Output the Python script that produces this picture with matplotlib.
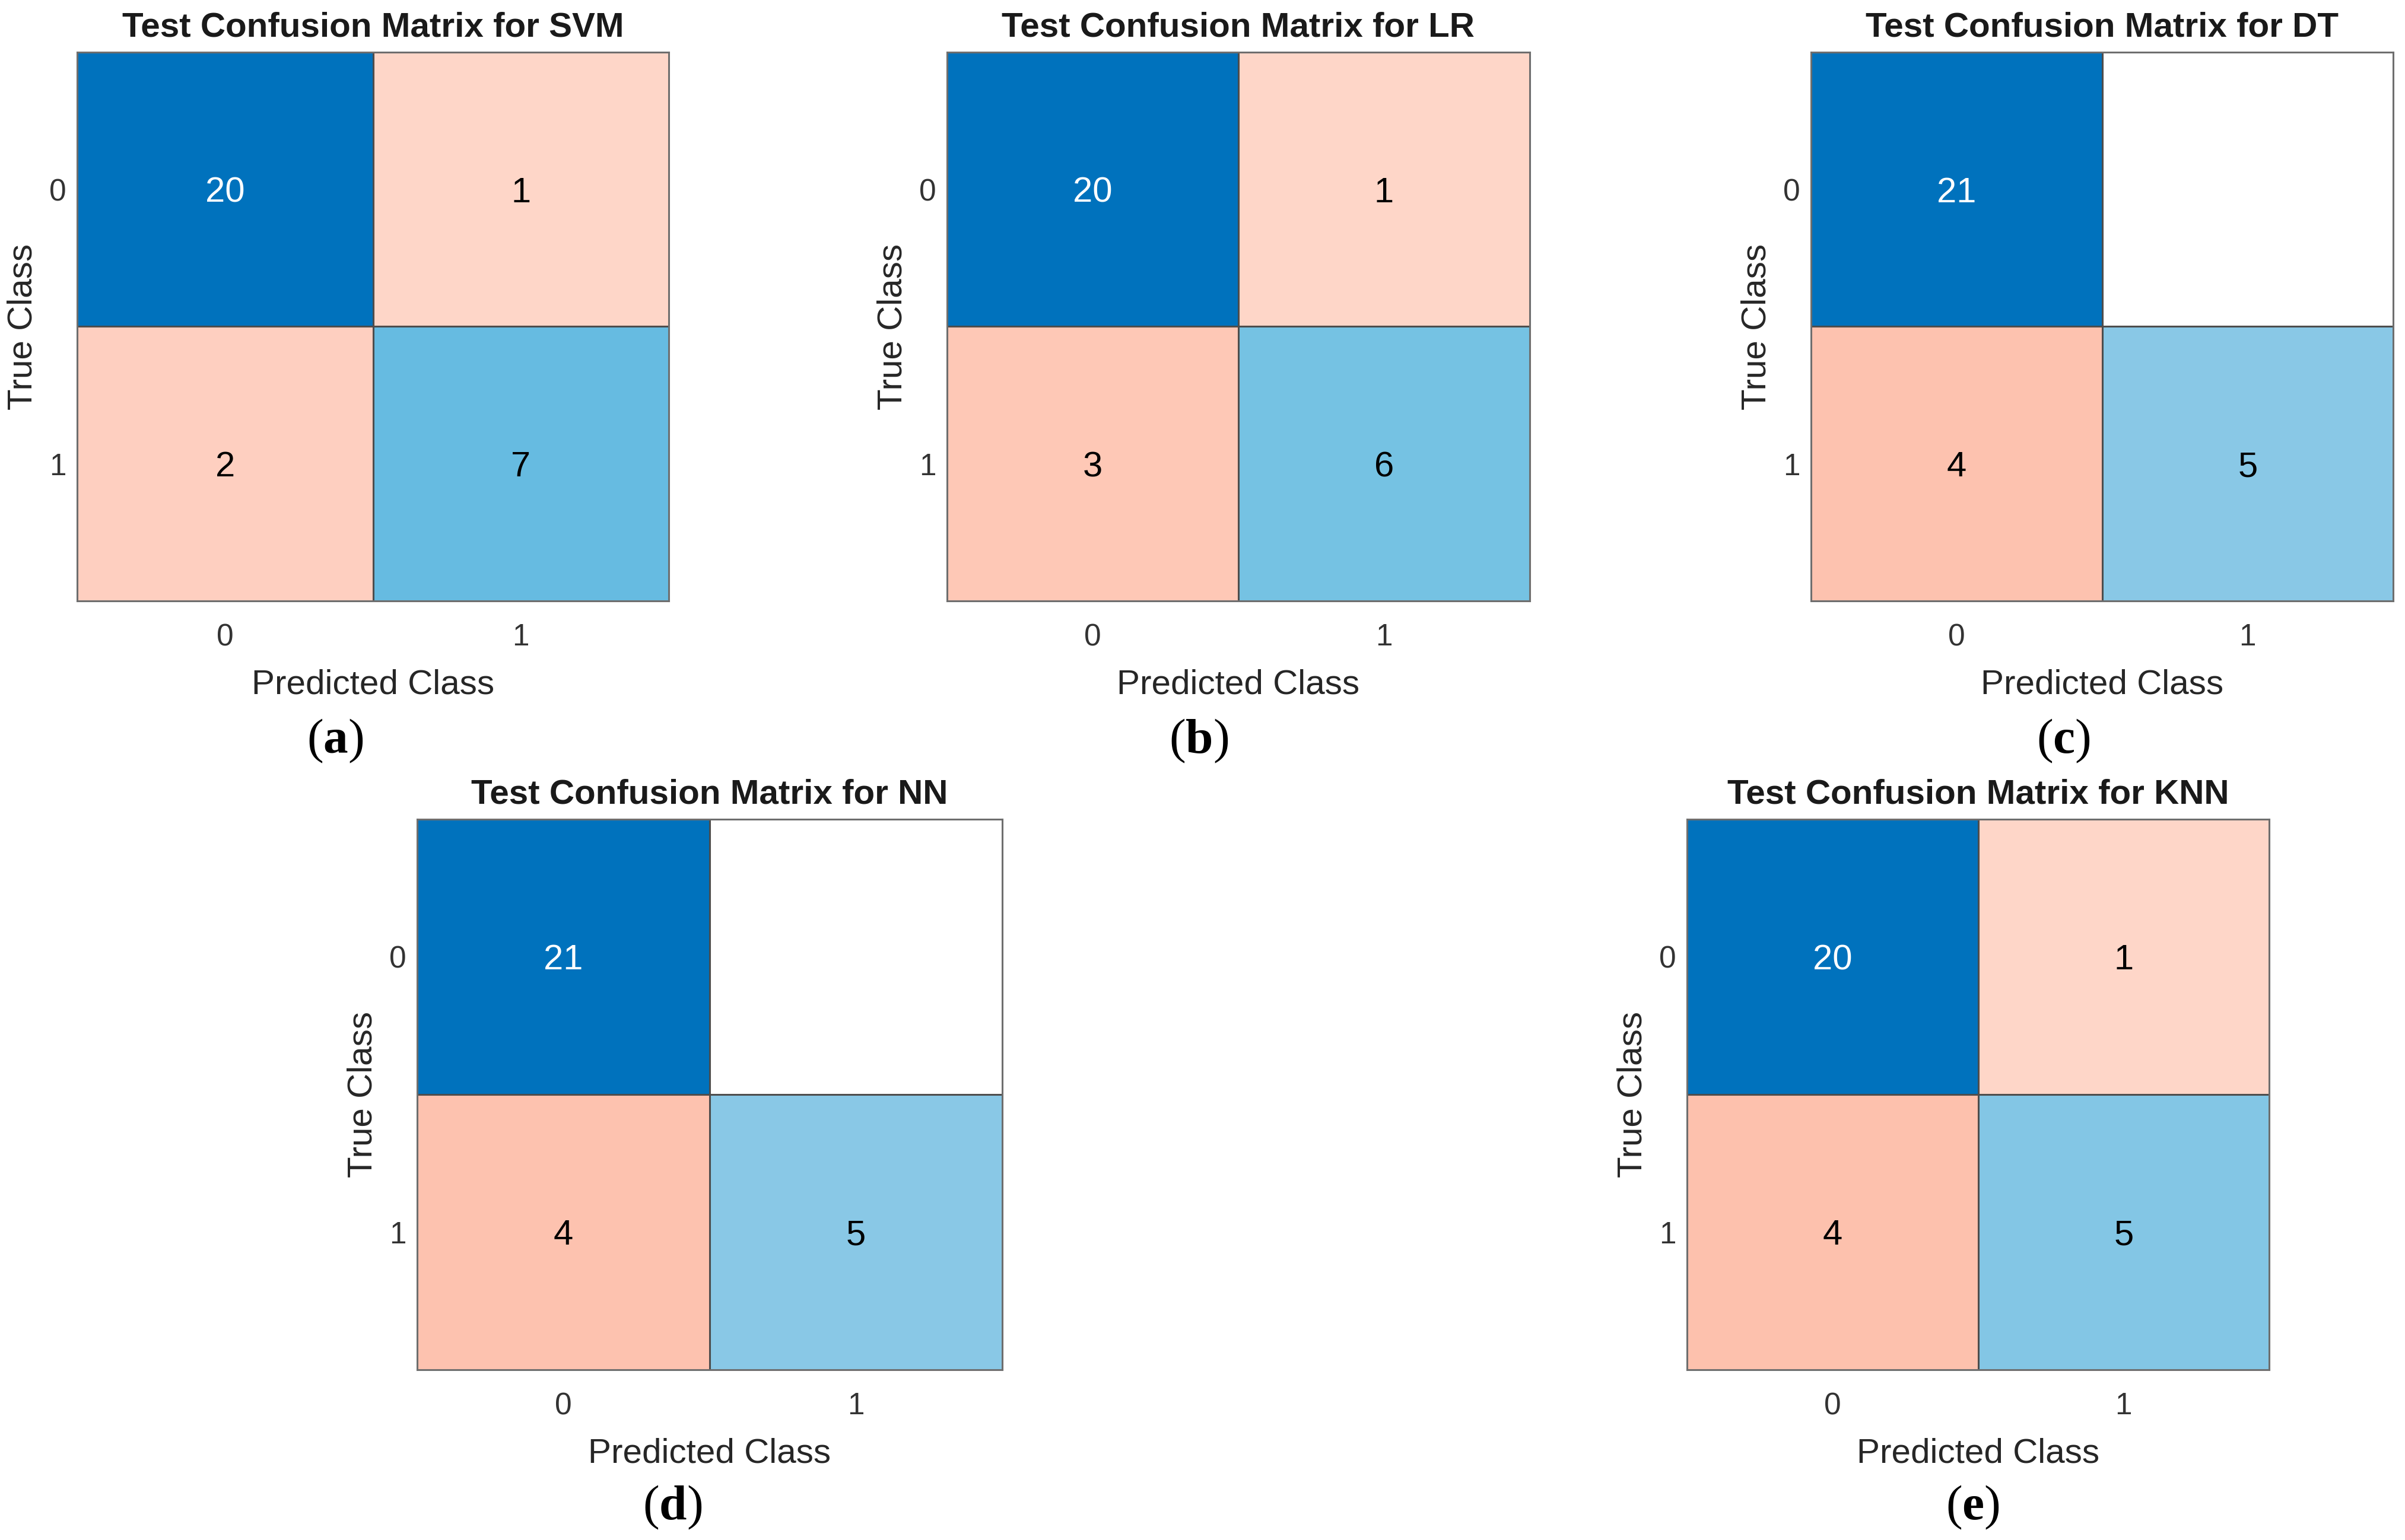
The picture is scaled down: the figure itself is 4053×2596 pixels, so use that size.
import numpy as np
import matplotlib
matplotlib.use("Agg")
import matplotlib.pyplot as plt
from matplotlib.colors import LinearSegmentedColormap, to_rgb

plt.rcParams['font.family'] = ['Liberation Sans', 'DejaVu Sans']
plt.rcParams['mathtext.fontset'] = 'custom'
plt.rcParams['mathtext.rm'] = 'Liberation Serif'
plt.rcParams['mathtext.bf'] = 'Liberation Serif:bold'

# ---------------- data ----------------
models = ["SVM", "LR", "DT", "NN", "KNN"]
panel_letters = ["a", "b", "c", "d", "e"]
class_labels = ["0", "1"]
cm_svm = [[20, 1], [2, 7]]
cm_lr = [[20, 1], [3, 6]]
cm_dt = [[21, 0], [4, 5]]
cm_nn = [[21, 0], [4, 5]]
cm_knn = [[20, 1], [4, 5]]
matrices = [cm_svm, cm_lr, cm_dt, cm_nn, cm_knn]

# ---------------- layout (pixels) ----------------
W, H = 4053, 2596
boxes = [(130, 88, 1127, 1013), (1596, 88, 2578, 1013), (3052, 88, 4033, 1013),
         (703, 1381, 1689, 2309), (2843, 1381, 3824, 2309)]
letter_pos = [(565, 1249), (2020, 1249), (3477, 1249), (1133, 2541), (3324, 2541)]

# colour scales (fraction of chart max -> colour)
diag_cmap = LinearSegmentedColormap.from_list("diag", [
    (0.0, "#FFFFFF"), (0.238, "#88C8E6"), (0.25, "#84C7E6"), (0.30, "#75C2E3"),
    (0.35, "#66BBE1"), (1.0, "#0072BD")])
off_cmap = LinearSegmentedColormap.from_list("off", [
    (0.0, "#FFFFFF"), (0.001, "#FFDACD"), (0.05, "#FED6C8"), (0.10, "#FECFC0"),
    (0.15, "#FEC8B6"), (0.20, "#FDC1AD"), (1.0, "#D95319")])

fig = plt.figure(figsize=(W / 100, H / 100), dpi=100)

for cm, name, letter, (x0, y0, x1, y1), (lx, ly) in zip(matrices, models, panel_letters, boxes, letter_pos):
    ax = fig.add_axes([x0 / W, 1 - y1 / H, (x1 - x0) / W, (y1 - y0) / H])
    m = np.array(cm, dtype=float)
    mx = m.max()
    n = m.shape[0]
    rgb = np.zeros((n, n, 3))
    for i in range(n):
        for j in range(n):
            f = m[i, j] / mx
            if m[i, j] == 0:
                rgb[i, j] = (1, 1, 1)
            elif i == j:
                rgb[i, j] = to_rgb(diag_cmap(f))
            else:
                rgb[i, j] = to_rgb(off_cmap(f))
    ax.imshow(rgb, aspect='auto', interpolation='nearest')
    for i in range(n):
        for j in range(n):
            if m[i, j] == 0:
                continue
            f = m[i, j] / mx
            col = "white" if (i == j and f > 0.6) else "black"
            ax.text(j, i, f"{int(m[i, j])}", ha='center', va='center_baseline',
                    fontsize=43, color=col)
    for k in range(1, n):
        ax.axhline(k - 0.5, color="#4D4D4D", lw=2.2)
        ax.axvline(k - 0.5, color="#4D4D4D", lw=2.2)
    ax.set_xlim(-0.5, n - 0.5)
    ax.set_ylim(n - 0.5, -0.5)
    ax.set_xticks(range(n))
    ax.set_yticks(range(n))
    ax.set_xticklabels(class_labels)
    ax.set_yticklabels(class_labels)
    ax.tick_params(length=0, labelsize=37, labelcolor="#333333")
    ax.tick_params(axis='x', pad=27)
    ax.tick_params(axis='y', pad=13)
    for s in ax.spines.values():
        s.set_color("#6E6E6E")
        s.set_linewidth(2.2)
    ax.set_title(f"Test Confusion Matrix for {name}", fontsize=42,
                 fontweight='bold', color="#1A1A1A", pad=19)
    ax.set_xlabel("Predicted Class", fontsize=42, color="#262626", labelpad=20)
    ax.set_ylabel("True Class", fontsize=42, color="#262626", labelpad=13)
    fig.text(lx / W, 1 - ly / H, f"($\\mathbf{{{letter}}}$)", fontsize=60,
             family='Liberation Serif', ha='center', va='center', color='black')

fig.savefig("out.png", dpi=100)
